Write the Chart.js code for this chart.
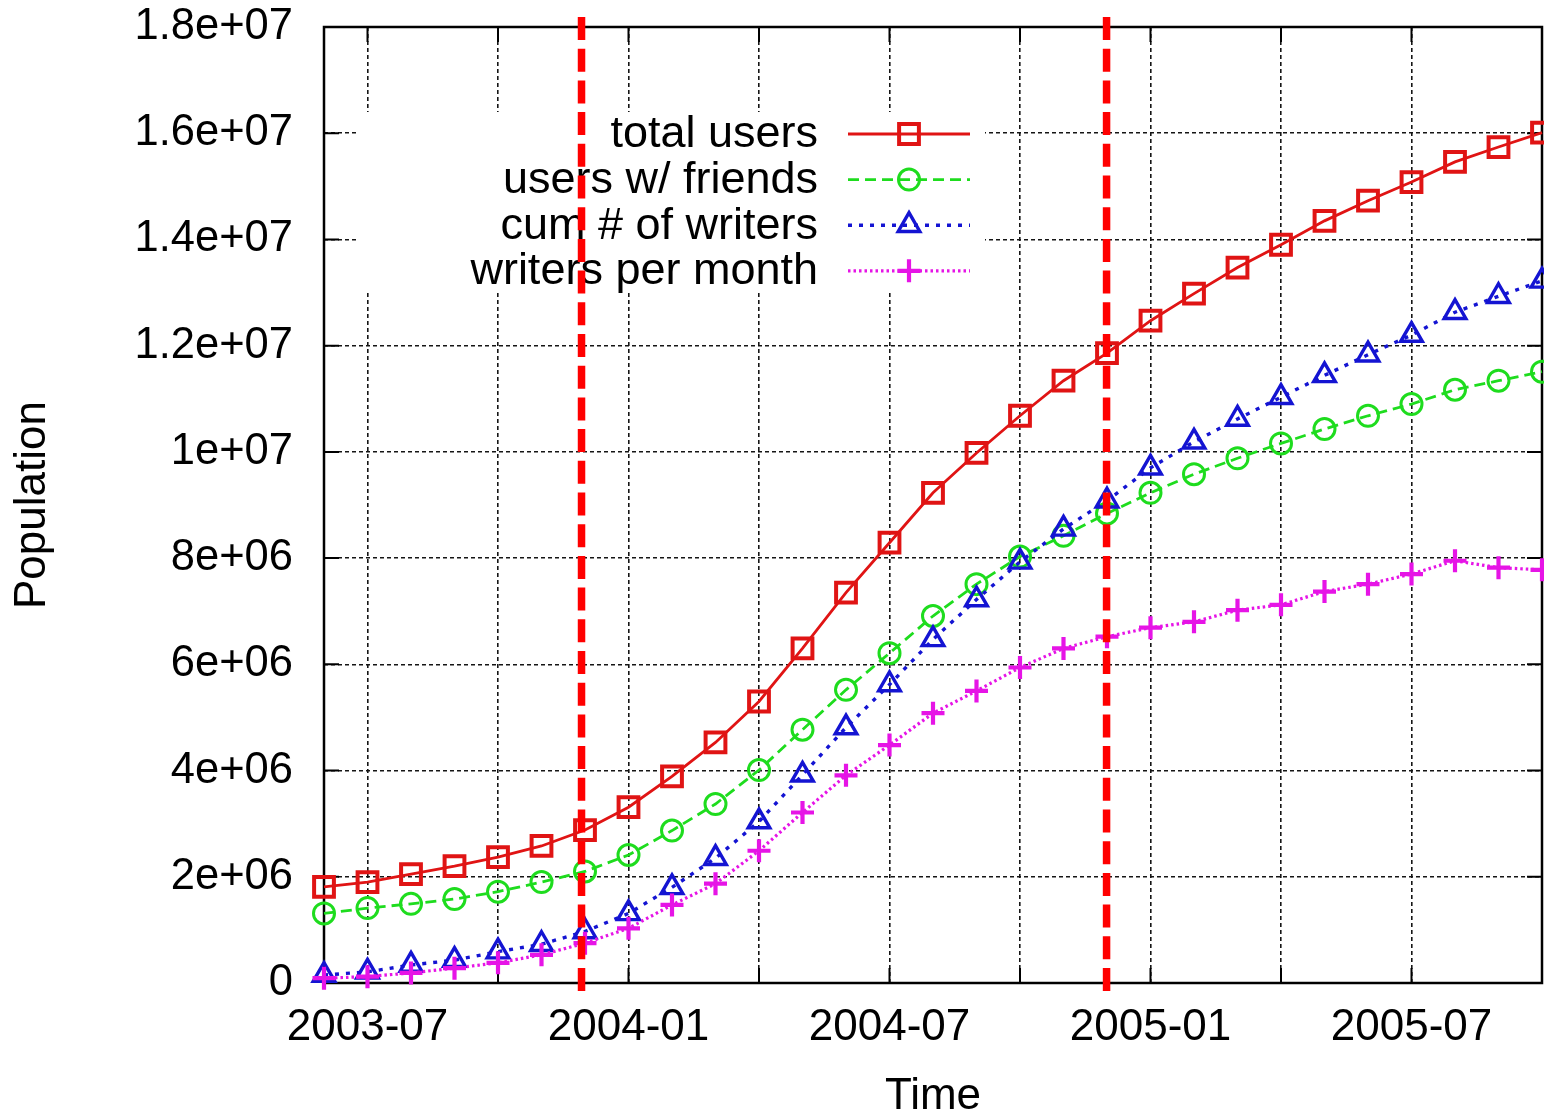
<!DOCTYPE html>
<html>
<head>
<meta charset="utf-8">
<script src="https://cdn.jsdelivr.net/npm/chart.js@4.4.1/dist/chart.umd.min.js"></script>
<style>
  html, body { margin: 0; padding: 0; background: #ffffff; }
  #wrap { width: 1544px; height: 1117px; position: relative; }
</style>
</head>
<body>
<div id="wrap"><canvas id="c" width="1544" height="1117"></canvas></div>
<script>
// ---------------- data ----------------
const months = [
  '2003-06','2003-07','2003-08','2003-09','2003-10','2003-11','2003-12',
  '2004-01','2004-02','2004-03','2004-04','2004-05','2004-06',
  '2004-07','2004-08','2004-09','2004-10','2004-11','2004-12',
  '2005-01','2005-02','2005-03','2005-04','2005-05','2005-06',
  '2005-07','2005-08','2005-09','2005-10'
];
const totalUsers = [
  1.81e6, 1.90e6, 2.05e6, 2.20e6, 2.37e6, 2.58e6, 2.88e6,
  3.31e6, 3.89e6, 4.53e6, 5.30e6, 6.30e6, 7.35e6,
  8.29e6, 9.23e6, 9.98e6, 10.68e6, 11.34e6, 11.86e6,
  12.47e6, 12.98e6, 13.47e6, 13.90e6, 14.35e6, 14.73e6,
  15.08e6, 15.46e6, 15.74e6, 16.01e6
];
const usersWithFriends = [
  1.31e6, 1.41e6, 1.49e6, 1.58e6, 1.72e6, 1.90e6, 2.10e6,
  2.41e6, 2.87e6, 3.37e6, 4.01e6, 4.77e6, 5.52e6,
  6.21e6, 6.91e6, 7.51e6, 8.03e6, 8.42e6, 8.84e6,
  9.23e6, 9.58e6, 9.88e6, 10.16e6, 10.43e6, 10.68e6,
  10.90e6, 11.17e6, 11.34e6, 11.51e6
];
const cumWriters = [
  0.15e6, 0.21e6, 0.34e6, 0.43e6, 0.59e6, 0.73e6, 0.97e6,
  1.31e6, 1.80e6, 2.35e6, 3.04e6, 3.92e6, 4.81e6,
  5.62e6, 6.47e6, 7.22e6, 7.93e6, 8.55e6, 9.08e6,
  9.70e6, 10.19e6, 10.62e6, 11.03e6, 11.44e6, 11.83e6,
  12.20e6, 12.63e6, 12.93e6, 13.22e6
];
const writersPerMonth = [
  0.09e6, 0.12e6, 0.19e6, 0.28e6, 0.38e6, 0.53e6, 0.75e6,
  1.03e6, 1.47e6, 1.87e6, 2.49e6, 3.21e6, 3.91e6,
  4.48e6, 5.08e6, 5.50e6, 5.94e6, 6.30e6, 6.52e6,
  6.69e6, 6.80e6, 7.02e6, 7.12e6, 7.37e6, 7.51e6,
  7.70e6, 7.95e6, 7.82e6, 7.78e6
];
const seriesNames = ['total users', 'users w/ friends', 'cum # of writers', 'writers per month'];
const yTickLabels = ['0','2e+06','4e+06','6e+06','8e+06','1e+07','1.2e+07','1.4e+07','1.6e+07','1.8e+07'];
const xTickLabels = ['2003-07','2004-01','2004-07','2005-01','2005-07'];
const gridMonths = ['2003-07','2003-10','2004-01','2004-04','2004-07','2004-10','2005-01','2005-04','2005-07','2005-10'];
const phaseMarkers = [5.92, 17.99];   // positions on the month axis (index units)

// ---------------- styling ----------------
const FONT = "'Liberation Sans', Arial, Helvetica, sans-serif";
const COLORS = ['#e01414', '#1edc1e', '#1414d2', '#e614e6'];
const styles = [
  { pointStyle: 'rect',     radius: 14,   pbw: 4,   lw: 2.8, dash: [] },
  { pointStyle: 'circle',   radius: 10.5, pbw: 3,   lw: 2.8, dash: [11, 6] },
  { pointStyle: 'triangle', radius: 12.5, pbw: 3.4, lw: 3.4, dash: [4, 7] },
  { pointStyle: 'cross',    radius: 11.5, pbw: 4.2, lw: 3.2, dash: [2.5, 3] }
];
const seriesData = [totalUsers, usersWithFriends, cumWriters, writersPerMonth];

const datasets = seriesData.map((d, i) => ({
  label: seriesNames[i],
  data: d,
  borderColor: COLORS[i],
  backgroundColor: 'rgba(0,0,0,0)',
  borderWidth: styles[i].lw,
  borderDash: styles[i].dash,
  tension: 0,
  pointStyle: styles[i].pointStyle,
  pointRadius: styles[i].radius,
  pointHoverRadius: styles[i].radius,
  pointBorderWidth: styles[i].pbw,
  pointBorderColor: COLORS[i],
  pointBackgroundColor: 'rgba(0,0,0,0)',
  clip: false,
  order: 3 - i
}));

const gnuplotPlugin = {
  id: 'gnuplotDecor',
  beforeDatasetsDraw(chart) {
    const ctx = chart.ctx, a = chart.chartArea;
    const xs = chart.scales.x, ys = chart.scales.y;
    ctx.save();
    // white key box
    ctx.fillStyle = '#ffffff';
    ctx.fillRect(356, 112, 629, 181);
    // frame
    ctx.setLineDash([]);
    ctx.strokeStyle = '#000';
    ctx.lineWidth = 2.5;
    ctx.strokeRect(a.left, a.top, a.right - a.left, a.bottom - a.top);
    // inward tick marks
    ctx.lineWidth = 2;
    ctx.beginPath();
    xs.ticks.forEach((t, i) => {
      if (gridMonths.includes(months[i])) {
        const px = xs.getPixelForTick(i);
        ctx.moveTo(px, a.bottom); ctx.lineTo(px, a.bottom - 15);
        ctx.moveTo(px, a.top);    ctx.lineTo(px, a.top + 15);
      }
    });
    ys.ticks.forEach((t, i) => {
      const py = ys.getPixelForTick(i);
      ctx.moveTo(a.left, py);  ctx.lineTo(a.left + 15, py);
      ctx.moveTo(a.right, py); ctx.lineTo(a.right - 15, py);
    });
    ctx.stroke();
    // key entries
    const rowY0 = 134, rowStep = 45.6;
    ctx.font = '45px ' + FONT;
    ctx.textAlign = 'right';
    ctx.textBaseline = 'middle';
    seriesNames.forEach((name, i) => {
      const y = rowY0 + i * rowStep;
      ctx.fillStyle = '#000';
      ctx.fillText(name, 818, y + 1);
      ctx.strokeStyle = COLORS[i];
      ctx.lineWidth = styles[i].lw;
      ctx.setLineDash(styles[i].dash);
      ctx.beginPath();
      ctx.moveTo(848, y); ctx.lineTo(970, y);
      ctx.stroke();
      ctx.setLineDash([]);
      ctx.lineWidth = styles[i].pbw;
      ctx.fillStyle = 'rgba(0,0,0,0)';
      Chart.helpers.drawPoint(ctx, {
        pointStyle: styles[i].pointStyle, rotation: 0,
        radius: styles[i].radius, borderWidth: styles[i].pbw
      }, 909, y);
    });
    ctx.restore();
  },
  afterDatasetsDraw(chart) {
    const ctx = chart.ctx, a = chart.chartArea;
    const xs = chart.scales.x;
    ctx.save();
    ctx.strokeStyle = '#ff0000';
    ctx.lineWidth = 7.5;
    ctx.lineCap = 'butt';
    ctx.setLineDash([23, 8.7]);
    phaseMarkers.forEach(v => {
      const px = xs.getPixelForValue(v);
      ctx.beginPath();
      ctx.moveTo(px, a.top - 10);
      ctx.lineTo(px, a.bottom + 9);
      ctx.stroke();
    });
    ctx.restore();
  }
};

function noOverflowPadding(s) {
  s.paddingTop = 0; s.paddingBottom = 0; s.paddingLeft = 0; s.paddingRight = 0;
}

new Chart(document.getElementById('c'), {
  type: 'line',
  data: { labels: months, datasets },
  options: {
    responsive: false,
    animation: false,
    devicePixelRatio: 1,
    events: [],
    layout: { autoPadding: false, padding: { left: 0, right: 2, top: 27, bottom: 0 } },
    plugins: { legend: { display: false }, tooltip: { enabled: false } },
    scales: {
      x: {
        type: 'category',
        offset: false,
        ticks: {
          autoSkip: false, maxRotation: 0, minRotation: 0, padding: 18,
          color: '#000', font: { family: FONT, size: 44 },
          callback: (v, i) => xTickLabels.includes(months[i]) ? months[i] : ''
        },
        grid: {
          drawTicks: false, lineWidth: 1.6,
          color: (c) => gridMonths.includes(months[c.index]) ? '#151515' : 'rgba(0,0,0,0)'
        },
        border: { display: false, dash: [4, 3] },
        title: {
          display: true, text: 'Time', color: '#000',
          font: { family: FONT, size: 44, lineHeight: '40px' },
          padding: { top: 0, bottom: 0 }
        },
        afterFit(s) { s.height = 134; noOverflowPadding(s); }
      },
      y: {
        type: 'linear', min: 0, max: 1.8e7,
        ticks: {
          stepSize: 2e6, padding: 31, color: '#000',
          font: { family: FONT, size: 43.5 },
          callback: (v, i) => yTickLabels[i]
        },
        grid: { drawTicks: false, lineWidth: 1.6, color: '#151515' },
        border: { display: false, dash: [4, 3] },
        title: {
          display: true, text: 'Population', color: '#000',
          font: { family: FONT, size: 44 },
          padding: { top: 6, bottom: 0 }
        },
        afterFit(s) { s.width = 324; noOverflowPadding(s); }
      }
    }
  },
  plugins: [gnuplotPlugin]
});
</script>
</body>
</html>
